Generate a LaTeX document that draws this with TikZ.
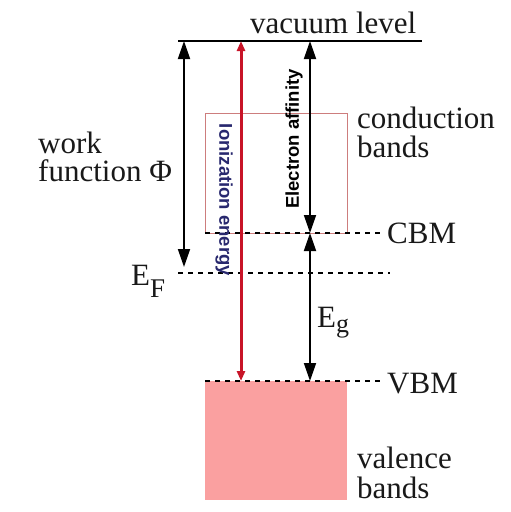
\documentclass[tikz,border=0pt]{standalone}
\usepackage{fontspec}
\setmainfont{Liberation Serif}
\newfontfamily\labelsans{Liberation Sans}
\usetikzlibrary{arrows.meta}
\definecolor{ionred}{RGB}{200,20,40}
\definecolor{ionblue}{RGB}{40,40,110}
\definecolor{cbedge}{RGB}{205,125,125}
\definecolor{vbfill}{RGB}{250,160,160}
\begin{document}
\begin{tikzpicture}[x=1pt,y=-1pt,
  big/.style={font=\fontsize{31}{29}\selectfont, inner sep=0pt, text=black!90},
  levelline/.style={line width=1.6pt},
  dashline/.style={line width=1.3pt, dash pattern=on 5pt off 5pt},
  blackarrow/.style={line width=1.8pt, {Triangle[length=18pt,width=12pt]}-{Triangle[length=18pt,width=12pt]}},
  redarrow/.style={line width=3pt, ionred, {Triangle[length=10pt,width=8pt]}-{Triangle[length=10pt,width=8pt]}},
  vertlabel/.style={font=\labelsans\bfseries\fontsize{18.5}{18.5}\selectfont, inner sep=0pt},
  bandbox/.style={minimum width=142pt, inner sep=0pt, anchor=north west}
]
\useasboundingbox (0,0) rectangle (511,512);
\fill[white] (0,0) rectangle (511,512);

% bands
\node[bandbox, draw=cbedge, line width=1.2pt, minimum height=120pt] (cb) at (205,113) {};
\node[bandbox, fill=vbfill, minimum height=119pt] (vb) at (205,381) {};

% level coordinates
\coordinate (vac0) at (178,41);
\coordinate (vac1) at (422,41);
\coordinate (cbm0) at (205,233);
\coordinate (cbm1) at (380,233);
\coordinate (ef0) at (178,273);
\coordinate (ef1) at (390,273);
\coordinate (vbm0) at (205,381);
\coordinate (vbm1) at (380,381);

\draw[levelline] (vac0) -- (vac1);
\draw[dashline] (cbm0) -- (cbm1);
\draw[dashline] (ef0) -- (ef1);
\draw[dashline] (vbm0) -- (vbm1);

% arrow end points
\coordinate (wfTop) at (184,41);
\coordinate (wfBot) at (184,267);
\coordinate (ieTop) at (241,41);
\coordinate (ieBot) at (241,381);
\coordinate (eaTop) at (310,41);
\coordinate (eaBot) at (310,233);
\coordinate (egTop) at (310,233);
\coordinate (egBot) at (310,381);

\draw[blackarrow] (wfTop) -- (wfBot);
\draw[redarrow] (ieTop) -- (ieBot);
\draw[blackarrow] (eaTop) -- (eaBot);
\draw[blackarrow] (egTop) -- (egBot);

% labels
\node[big, anchor=base west] (vac) at (250,33) {vacuum level};
\node[big, anchor=base west] (cond1) at (357,128) {conduction};
\node[big, anchor=base west] (cond2) at (357,157) {bands};
\node[big, anchor=base west] (wf1) at (38,153) {work};
\node[big, anchor=base west] (wf2) at (38,181) {function Φ};
\node[big, anchor=base west] (ef) at (131,285) {E\raisebox{-12pt}{\fontsize{27}{27}\selectfont F}};
\node[big, anchor=base west] (eg) at (317,327) {E\raisebox{-5pt}{\fontsize{26}{26}\selectfont g}};
\node[big, anchor=base west] (cbm) at (387,243) {CBM};
\node[big, anchor=base west] (vbm) at (387,393) {VBM};
\node[big, anchor=base west] (val1) at (357,468) {valence};
\node[big, anchor=base west] (val2) at (357,498) {bands};

\node[vertlabel, text=ionblue, rotate=-90] (ie) at (224,200) {Ionization energy};
\node[vertlabel, rotate=90] (ea) at (294,139) {Electron affinity};
\end{tikzpicture}
\end{document}
